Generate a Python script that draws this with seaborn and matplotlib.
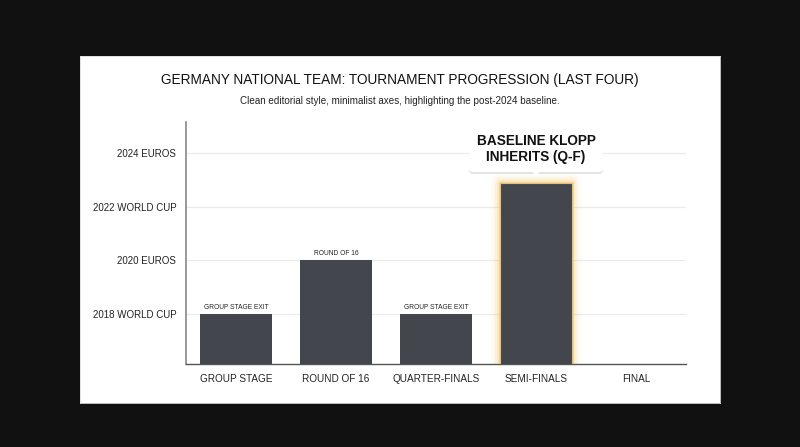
import pandas as pd
import numpy as np
import matplotlib.pyplot as plt
import matplotlib.patheffects as pe
from matplotlib.patches import Rectangle
import seaborn as sns

stages = ["GROUP STAGE", "ROUND OF 16", "QUARTER-FINALS", "SEMI-FINALS", "FINAL"]
bar_stages = ["GROUP STAGE", "ROUND OF 16", "QUARTER-FINALS", "SEMI-FINALS"]
bar_values = [1, 2, 1, 3.45]
bar_labels = ["GROUP STAGE EXIT", "ROUND OF 16", "GROUP STAGE EXIT", ""]
tournaments = ["2018 WORLD CUP", "2020 EUROS", "2022 WORLD CUP", "2024 EUROS"]
tournament_pos = [1, 2, 3, 4]

df = pd.DataFrame({"stage": bar_stages, "value": bar_values})

sns.set_theme(style="white")
plt.rcParams["font.family"] = ["Liberation Sans", "DejaVu Sans"]

fig = plt.figure(figsize=(8, 4.47), dpi=100)
fig.patch.set_facecolor("#111111")

# white card behind everything
card = fig.add_axes([80 / 800, 1 - 403 / 447, 640 / 800, 347 / 447], zorder=-1)
card.set_facecolor("white")
card.set_xticks([])
card.set_yticks([])
for s in card.spines.values():
    s.set_color("#dddddd")
    s.set_linewidth(0.6)

ax = fig.add_axes([186 / 800, 1 - 364 / 447, 500 / 800, 242 / 447])
ax.set_facecolor("none")

sns.barplot(data=df, x="stage", y="value", order=stages, color="#43464c",
            width=0.72, saturation=1, ax=ax, zorder=3)

ax.set_ylim(0.07, 4.58)
ax.set_xlim(-0.5, 4.5)
ax.set_yticks(tournament_pos)
ax.set_yticklabels(tournaments)
ax.set_xlabel("")
ax.set_ylabel("")
ax.yaxis.grid(True, color="#ebebeb", lw=0.9, zorder=0)
ax.set_axisbelow(True)
ax.tick_params(axis="y", labelsize=7, colors="#222222", length=0, pad=7)
ax.tick_params(axis="x", labelsize=7.2, colors="#222222", length=0, pad=7)
for s in ["top", "right"]:
    ax.spines[s].set_visible(False)
ax.spines["left"].set_color("#888888")
ax.spines["left"].set_linewidth(1.2)
ax.spines["bottom"].set_color("#555555")
ax.spines["bottom"].set_linewidth(1.0)

bars = ax.patches[:len(bar_stages)]
for bar, lab in zip(bars, bar_labels):
    bar.set_edgecolor("none")
    if lab:
        ax.text(bar.get_x() + bar.get_width() / 2, bar.get_height() + 0.06, lab,
                ha="center", va="bottom", fontsize=4.8, color="#222222", zorder=5)

# glow on semi-final bar
hb = bars[3]
for lw, a in [(14, 0.04), (10, 0.06), (7, 0.09), (4, 0.16), (1.8, 0.45)]:
    ax.add_patch(Rectangle((hb.get_x(), 0.07), hb.get_width(), hb.get_height() - 0.07,
                           facecolor="none", edgecolor="#f3b73f", lw=lw, alpha=a,
                           zorder=2, joinstyle="round"))
hb.set_edgecolor("#e2bf7c")
hb.set_linewidth(0.8)

# callout box with a small pointer down to the highlighted bar
cx = hb.get_x() + hb.get_width() / 2
t = ax.text(cx, 4.07, "BASELINE KLOPP\nINHERITS (Q-F)",
            ha="center", va="center", fontsize=9.8, fontweight="bold",
            color="#111111", linespacing=1.2, zorder=6,
            bbox=dict(boxstyle="round,pad=0.55,rounding_size=0.3", fc="white", ec="none"))
t.get_bbox_patch().set_path_effects([pe.SimplePatchShadow(offset=(0, -1.5), alpha=0.15),
                                     pe.Normal()])
ax.plot([cx], [hb.get_height() + 0.2], marker="v", markersize=8, color="white",
        markeredgewidth=0, zorder=7)

fig.text(0.5, 1 - 80 / 447, "GERMANY NATIONAL TEAM: TOURNAMENT PROGRESSION (LAST FOUR)",
         ha="center", va="center", fontsize=9.8, color="#111111")
fig.text(0.5, 1 - 101 / 447, "Clean editorial style, minimalist axes, highlighting the post-2024 baseline.",
         ha="center", va="center", fontsize=7.1, color="#222222")

fig.savefig("out.png", dpi=100, facecolor=fig.get_facecolor())
